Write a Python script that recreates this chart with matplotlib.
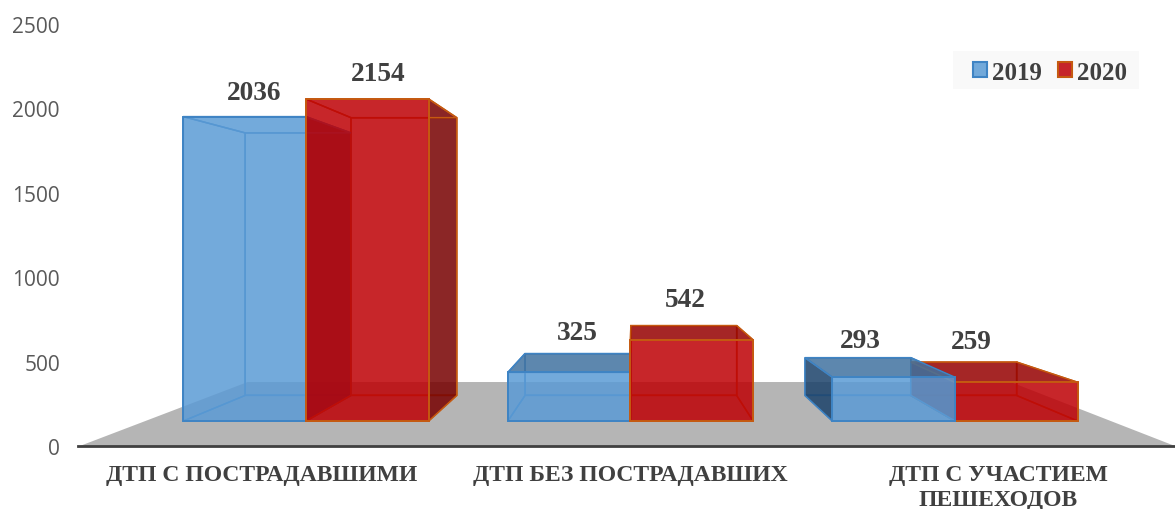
import matplotlib
matplotlib.use("Agg")
import matplotlib.pyplot as plt
from matplotlib.colors import to_rgba
from matplotlib.patches import Polygon, Rectangle, Patch

categories = ["ДТП С ПОСТРАДАВШИМИ", "ДТП БЕЗ ПОСТРАДАВШИХ", "ДТП С УЧАСТИЕМ\nПЕШЕХОДОВ"]
series_names = ["2019", "2020"]
values_2019 = [2036, 325, 293]
values_2020 = [2154, 542, 259]
y_ticks = [0, 500, 1000, 1500, 2000, 2500]

W, H = 1175, 510
fig = plt.figure(figsize=(W / 100, H / 100), dpi=100, facecolor="white")
ax = fig.add_axes([78 / W, (H - 447) / H, (W - 78) / W, (447 - 25) / H])
ax.patch.set_visible(False)
ax.set_xlim(-0.7026, 2.678)
ax.set_ylim(0, 2500)

# simple one-point perspective helpers (data coordinates of the axes)
VX, VY = 1.008, 1250.0
BASE, VSCALE = 148.0, 0.8857
BACK = 0.8626
BAR_W = 0.378


def project(x, v, s=1.0):
    return VX + s * (x - VX), VY + s * (BASE + VSCALE * v - VY)


TEXT = "#404040"
SERIF = "Liberation Serif"
styles = [
    dict(front="#5B9BD5", edge="#3F84C4", side="#1B426A", top="#4172A0"),
    dict(front="#BE0005", edge="#C55A11", side="#770000", top="#960000"),
]
FACE_A = 0.85

# floor
NEAR = VY / (VY - BASE)
FAR = (VY - 379) / (VY - BASE)
FLOOR_L, FLOOR_R = -0.495, 2.48
floor = [project(FLOOR_L, 0, NEAR), project(FLOOR_R, 0, NEAR),
         project(FLOOR_R, 0, FAR), project(FLOOR_L, 0, FAR)]
ax.add_patch(Polygon(floor, closed=True, fc="#B5B5B5", ec="none", zorder=1, clip_on=False))


def poly(pts, fc, ec, z, alpha=FACE_A, lw=1.1, ea=1.0):
    face = to_rgba(fc, alpha) if fc else (0, 0, 0, 0)
    ax.add_patch(Polygon(pts, closed=True, fc=face, ec=to_rgba(ec, ea), lw=lw,
                         joinstyle="miter", zorder=z, clip_on=False))


all_values = [values_2019, values_2020]
for i in range(len(categories)):
    order = [0, 1] if i < 2 else [1, 0]
    for rank, k in enumerate(order):
        st = styles[k]
        v = all_values[k][i]
        x0 = i + (k - 1) * BAR_W
        x1 = x0 + BAR_W
        fb0, fb1 = project(x0, 0), project(x1, 0)
        ft0, ft1 = project(x0, v), project(x1, v)
        bb0, bb1 = project(x0, 0, BACK), project(x1, 0, BACK)
        bt0, bt1 = project(x0, v, BACK), project(x1, v, BACK)
        zb = rank * 0.01
        # back + bottom: outlines only
        poly([bb0, bb1, bt1, bt0], None, st["edge"], 2 + zb, ea=0.8)
        poly([fb0, fb1, bb1, bb0], None, st["edge"], 2 + zb, ea=0.8)
        # left and right walls; solid only if seen from outside
        poly([fb0, ft0, bt0, bb0], st["side"] if x0 > VX else None, st["edge"], 3 + zb)
        poly([fb1, ft1, bt1, bb1], st["side"] if x1 < VX else None, st["edge"], 3 + zb)
        # top: solid only if seen from above
        above = ft0[1] < VY
        poly([ft0, ft1, bt1, bt0], st["top"] if above else None, st["edge"], 4 + zb)
        # front
        poly([fb0, fb1, ft1, ft0], st["front"], st["edge"], 5 + zb, lw=1.4)

# value labels
label_dx = [[9, 8, -33], [11, -7, -45]]
label_dy = [[24, 21, 17], [25, 26, 21]]
for k in range(2):
    for i, v in enumerate(all_values[k]):
        x0 = i + (k - 1) * BAR_W
        xc = x0 + BAR_W / 2
        ftx, fty = project(xc, v)
        btx, bty = project(xc, v, BACK)
        ax.annotate(str(v), (ftx, max(fty, bty)),
                    xytext=(label_dx[k][i] * 0.72, label_dy[k][i] * 0.72),
                    textcoords="offset points", ha="center", va="center",
                    fontsize=19.7, fontweight="bold", family=SERIF, color=TEXT,
                    zorder=8, annotation_clip=False)

# axes
for s in ["top", "left", "right"]:
    ax.spines[s].set_visible(False)
ax.spines["bottom"].set_color("#404040")
ax.spines["bottom"].set_linewidth(2.0)
ax.spines["bottom"].set_zorder(6)
ax.set_yticks(y_ticks)
ax.tick_params(axis="y", length=0, pad=13, labelsize=15, labelcolor="#595959")
for t in ax.get_yticklabels():
    t.set_family("Open Sans")
ax.set_xticks([project(i, 0, NEAR)[0] for i in range(len(categories))])
ax.set_xticklabels(categories, family=SERIF, fontweight="bold", fontsize=17,
                   color=TEXT, linespacing=1.25)
ax.tick_params(axis="x", length=0, pad=13)

# legend
fig.add_artist(Rectangle((953 / W, (H - 90) / H), 186 / W, 38 / H, transform=fig.transFigure,
                         fc="#F9F9F9", ec="none", zorder=3))
handles = [Patch(fc=to_rgba(styles[k]["front"], FACE_A), ec=styles[k]["edge"], lw=1.5,
                 label=series_names[k]) for k in range(2)]
leg = fig.legend(handles=handles, loc="center", bbox_to_anchor=(1050 / W, (H - 73) / H), ncol=2,
                 frameon=False, prop=dict(family=SERIF, weight="bold", size=18),
                 handlelength=0.56, handleheight=0.56, handletextpad=0.2,
                 columnspacing=0.68, borderpad=0, borderaxespad=0)
for t in leg.get_texts():
    t.set_color(TEXT)
leg.set_zorder(5)

fig.savefig("out.png", dpi=100)
